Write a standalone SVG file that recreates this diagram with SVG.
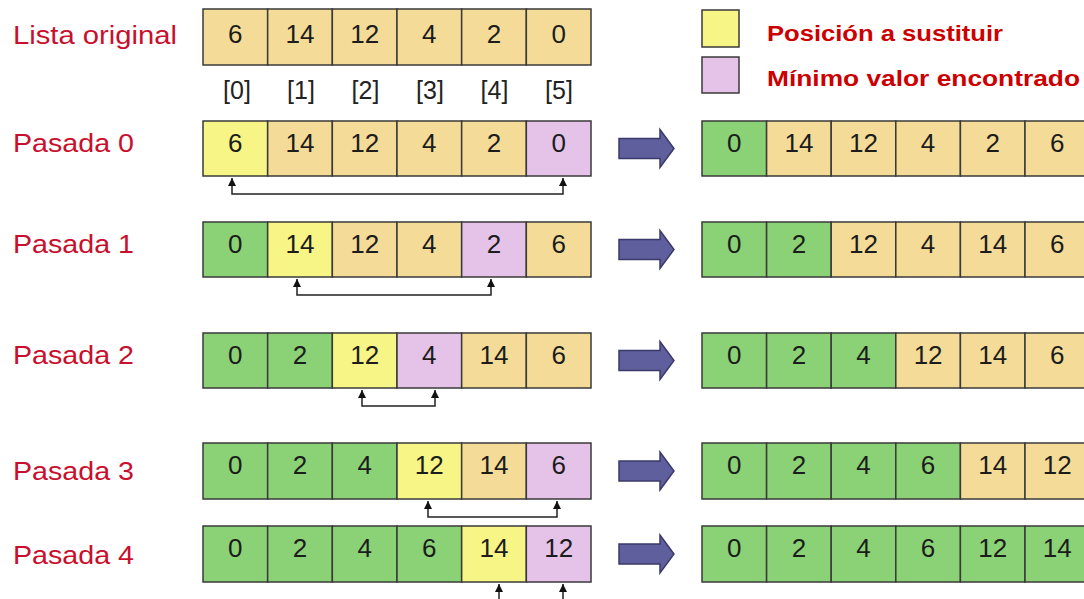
<svg xmlns="http://www.w3.org/2000/svg" width="1084" height="599" viewBox="0 0 1084 599">
  <defs>
    <style>
      .cell { stroke: #3a3a3a; stroke-width: 1.5; }
      .tan { fill: #f4dc98; }
      .yel { fill: #f6f585; }
      .pnk { fill: #e5c3e8; }
      .grn { fill: #8bd276; }
      .num { font-family: "Liberation Sans", Arial, sans-serif; font-size: 26px; fill: #1c1c1c; text-anchor: middle; }
      .idx { font-family: "Liberation Sans", Arial, sans-serif; font-size: 25px; fill: #222; text-anchor: middle; }
      .lbl { font-family: "Liberation Sans", Arial, sans-serif; font-size: 25px; fill: #c8102e; }
      .leg { font-family: "Liberation Sans", Arial, sans-serif; font-size: 22px; font-weight: bold; fill: #cc0000; }
      .bracket { fill: none; stroke: #222; stroke-width: 1.5; marker-start: url(#tip); marker-end: url(#tip); }
      .block { fill: #5f5f9d; stroke: #3a3a6a; stroke-width: 1.5; }
    </style>
    <marker id="tip" viewBox="0 0 10 10" refX="10" refY="5" markerWidth="10" markerHeight="8" markerUnits="userSpaceOnUse" orient="auto-start-reverse">
      <path d="M0,0 L10,5 L0,10 Z" fill="#111"/>
    </marker>
  </defs>
  <rect width="1084" height="599" fill="#ffffff"/>

  <!-- Row labels -->
  <g id="labels">
    <text class="lbl" x="13" y="44" textLength="164" lengthAdjust="spacingAndGlyphs">Lista original</text>
    <text class="lbl" x="13" y="152" textLength="121" lengthAdjust="spacingAndGlyphs">Pasada 0</text>
    <text class="lbl" x="13" y="253" textLength="121" lengthAdjust="spacingAndGlyphs">Pasada 1</text>
    <text class="lbl" x="13" y="364" textLength="121" lengthAdjust="spacingAndGlyphs">Pasada 2</text>
    <text class="lbl" x="13" y="480" textLength="121" lengthAdjust="spacingAndGlyphs">Pasada 3</text>
    <text class="lbl" x="13" y="564" textLength="121" lengthAdjust="spacingAndGlyphs">Pasada 4</text>
  </g>

  <!-- Legend -->
  <g id="legend-sustituir">
    <rect class="cell yel" x="702" y="10" width="37" height="37"/>
    <text class="leg" x="767" y="41" textLength="236" lengthAdjust="spacingAndGlyphs">Posición a sustituir</text>
  </g>
  <g id="legend-minimo">
    <rect class="cell pnk" x="702" y="57" width="37" height="36"/>
    <text class="leg" x="767" y="86" textLength="313" lengthAdjust="spacingAndGlyphs">Mínimo valor encontrado</text>
  </g>

  <!-- Original list -->
  <g id="row-original">
    <rect class="cell tan" x="203" y="9" width="64.67" height="56"/>
    <rect class="cell tan" x="267.67" y="9" width="64.67" height="56"/>
    <rect class="cell tan" x="332.33" y="9" width="64.67" height="56"/>
    <rect class="cell tan" x="397" y="9" width="64.67" height="56"/>
    <rect class="cell tan" x="461.67" y="9" width="64.67" height="56"/>
    <rect class="cell tan" x="526.33" y="9" width="64.67" height="56"/>
    <text class="num" x="235.3" y="43">6</text>
    <text class="num" x="300" y="43">14</text>
    <text class="num" x="364.7" y="43">12</text>
    <text class="num" x="429.3" y="43">4</text>
    <text class="num" x="494" y="43">2</text>
    <text class="num" x="558.7" y="43">0</text>
  </g>
  <g id="indices">
    <text class="idx" x="237" y="99">[0]</text>
    <text class="idx" x="301" y="99">[1]</text>
    <text class="idx" x="365.5" y="99">[2]</text>
    <text class="idx" x="430" y="99">[3]</text>
    <text class="idx" x="494.5" y="99">[4]</text>
    <text class="idx" x="559" y="99">[5]</text>
  </g>

  <!-- Pasada 0 -->
  <g id="row-p0">
    <rect class="cell yel" x="203" y="121" width="64.67" height="55"/>
    <rect class="cell tan" x="267.67" y="121" width="64.67" height="55"/>
    <rect class="cell tan" x="332.33" y="121" width="64.67" height="55"/>
    <rect class="cell tan" x="397" y="121" width="64.67" height="55"/>
    <rect class="cell tan" x="461.67" y="121" width="64.67" height="55"/>
    <rect class="cell pnk" x="526.33" y="121" width="64.67" height="55"/>
    <text class="num" x="235.3" y="152">6</text>
    <text class="num" x="300" y="152">14</text>
    <text class="num" x="364.7" y="152">12</text>
    <text class="num" x="429.3" y="152">4</text>
    <text class="num" x="494" y="152">2</text>
    <text class="num" x="558.7" y="152">0</text>
  </g>
  <g id="result-p0">
    <rect class="cell grn" x="702" y="121" width="64.6" height="55"/>
    <rect class="cell tan" x="766.6" y="121" width="64.6" height="55"/>
    <rect class="cell tan" x="831.2" y="121" width="64.6" height="55"/>
    <rect class="cell tan" x="895.8" y="121" width="64.6" height="55"/>
    <rect class="cell tan" x="960.4" y="121" width="64.6" height="55"/>
    <rect class="cell tan" x="1025" y="121" width="64.6" height="55"/>
    <text class="num" x="734.3" y="152">0</text>
    <text class="num" x="798.9" y="152">14</text>
    <text class="num" x="863.5" y="152">12</text>
    <text class="num" x="928.1" y="152">4</text>
    <text class="num" x="992.7" y="152">2</text>
    <text class="num" x="1057.3" y="152">6</text>
  </g>

  <!-- Pasada 1 -->
  <g id="row-p1">
    <rect class="cell grn" x="203" y="222" width="64.67" height="55"/>
    <rect class="cell yel" x="267.67" y="222" width="64.67" height="55"/>
    <rect class="cell tan" x="332.33" y="222" width="64.67" height="55"/>
    <rect class="cell tan" x="397" y="222" width="64.67" height="55"/>
    <rect class="cell pnk" x="461.67" y="222" width="64.67" height="55"/>
    <rect class="cell tan" x="526.33" y="222" width="64.67" height="55"/>
    <text class="num" x="235.3" y="253">0</text>
    <text class="num" x="300" y="253">14</text>
    <text class="num" x="364.7" y="253">12</text>
    <text class="num" x="429.3" y="253">4</text>
    <text class="num" x="494" y="253">2</text>
    <text class="num" x="558.7" y="253">6</text>
  </g>
  <g id="result-p1">
    <rect class="cell grn" x="702" y="222" width="64.6" height="55"/>
    <rect class="cell grn" x="766.6" y="222" width="64.6" height="55"/>
    <rect class="cell tan" x="831.2" y="222" width="64.6" height="55"/>
    <rect class="cell tan" x="895.8" y="222" width="64.6" height="55"/>
    <rect class="cell tan" x="960.4" y="222" width="64.6" height="55"/>
    <rect class="cell tan" x="1025" y="222" width="64.6" height="55"/>
    <text class="num" x="734.3" y="253">0</text>
    <text class="num" x="798.9" y="253">2</text>
    <text class="num" x="863.5" y="253">12</text>
    <text class="num" x="928.1" y="253">4</text>
    <text class="num" x="992.7" y="253">14</text>
    <text class="num" x="1057.3" y="253">6</text>
  </g>

  <!-- Pasada 2 -->
  <g id="row-p2">
    <rect class="cell grn" x="203" y="333" width="64.67" height="55"/>
    <rect class="cell grn" x="267.67" y="333" width="64.67" height="55"/>
    <rect class="cell yel" x="332.33" y="333" width="64.67" height="55"/>
    <rect class="cell pnk" x="397" y="333" width="64.67" height="55"/>
    <rect class="cell tan" x="461.67" y="333" width="64.67" height="55"/>
    <rect class="cell tan" x="526.33" y="333" width="64.67" height="55"/>
    <text class="num" x="235.3" y="364">0</text>
    <text class="num" x="300" y="364">2</text>
    <text class="num" x="364.7" y="364">12</text>
    <text class="num" x="429.3" y="364">4</text>
    <text class="num" x="494" y="364">14</text>
    <text class="num" x="558.7" y="364">6</text>
  </g>
  <g id="result-p2">
    <rect class="cell grn" x="702" y="333" width="64.6" height="55"/>
    <rect class="cell grn" x="766.6" y="333" width="64.6" height="55"/>
    <rect class="cell grn" x="831.2" y="333" width="64.6" height="55"/>
    <rect class="cell tan" x="895.8" y="333" width="64.6" height="55"/>
    <rect class="cell tan" x="960.4" y="333" width="64.6" height="55"/>
    <rect class="cell tan" x="1025" y="333" width="64.6" height="55"/>
    <text class="num" x="734.3" y="364">0</text>
    <text class="num" x="798.9" y="364">2</text>
    <text class="num" x="863.5" y="364">4</text>
    <text class="num" x="928.1" y="364">12</text>
    <text class="num" x="992.7" y="364">14</text>
    <text class="num" x="1057.3" y="364">6</text>
  </g>

  <!-- Pasada 3 -->
  <g id="row-p3">
    <rect class="cell grn" x="203" y="443" width="64.67" height="56"/>
    <rect class="cell grn" x="267.67" y="443" width="64.67" height="56"/>
    <rect class="cell grn" x="332.33" y="443" width="64.67" height="56"/>
    <rect class="cell yel" x="397" y="443" width="64.67" height="56"/>
    <rect class="cell tan" x="461.67" y="443" width="64.67" height="56"/>
    <rect class="cell pnk" x="526.33" y="443" width="64.67" height="56"/>
    <text class="num" x="235.3" y="474">0</text>
    <text class="num" x="300" y="474">2</text>
    <text class="num" x="364.7" y="474">4</text>
    <text class="num" x="429.3" y="474">12</text>
    <text class="num" x="494" y="474">14</text>
    <text class="num" x="558.7" y="474">6</text>
  </g>
  <g id="result-p3">
    <rect class="cell grn" x="702" y="443" width="64.6" height="56"/>
    <rect class="cell grn" x="766.6" y="443" width="64.6" height="56"/>
    <rect class="cell grn" x="831.2" y="443" width="64.6" height="56"/>
    <rect class="cell grn" x="895.8" y="443" width="64.6" height="56"/>
    <rect class="cell tan" x="960.4" y="443" width="64.6" height="56"/>
    <rect class="cell tan" x="1025" y="443" width="64.6" height="56"/>
    <text class="num" x="734.3" y="474">0</text>
    <text class="num" x="798.9" y="474">2</text>
    <text class="num" x="863.5" y="474">4</text>
    <text class="num" x="928.1" y="474">6</text>
    <text class="num" x="992.7" y="474">14</text>
    <text class="num" x="1057.3" y="474">12</text>
  </g>

  <!-- Pasada 4 -->
  <g id="row-p4">
    <rect class="cell grn" x="203" y="526" width="64.67" height="56"/>
    <rect class="cell grn" x="267.67" y="526" width="64.67" height="56"/>
    <rect class="cell grn" x="332.33" y="526" width="64.67" height="56"/>
    <rect class="cell grn" x="397" y="526" width="64.67" height="56"/>
    <rect class="cell yel" x="461.67" y="526" width="64.67" height="56"/>
    <rect class="cell pnk" x="526.33" y="526" width="64.67" height="56"/>
    <text class="num" x="235.3" y="557">0</text>
    <text class="num" x="300" y="557">2</text>
    <text class="num" x="364.7" y="557">4</text>
    <text class="num" x="429.3" y="557">6</text>
    <text class="num" x="494" y="557">14</text>
    <text class="num" x="558.7" y="557">12</text>
  </g>
  <g id="result-p4">
    <rect class="cell grn" x="702" y="526" width="64.6" height="56"/>
    <rect class="cell grn" x="766.6" y="526" width="64.6" height="56"/>
    <rect class="cell grn" x="831.2" y="526" width="64.6" height="56"/>
    <rect class="cell grn" x="895.8" y="526" width="64.6" height="56"/>
    <rect class="cell grn" x="960.4" y="526" width="64.6" height="56"/>
    <rect class="cell grn" x="1025" y="526" width="64.6" height="56"/>
    <text class="num" x="734.3" y="557">0</text>
    <text class="num" x="798.9" y="557">2</text>
    <text class="num" x="863.5" y="557">4</text>
    <text class="num" x="928.1" y="557">6</text>
    <text class="num" x="992.7" y="557">12</text>
    <text class="num" x="1057.3" y="557">14</text>
  </g>

  <!-- Connectors -->
  <g id="connectors">
    <path class="bracket" d="M232,178 V194 H563 V178"/>
    <path class="bracket" d="M297,279 V295 H491 V279"/>
    <path class="bracket" d="M362,390 V406 H435 V390"/>
    <path class="bracket" d="M428,501 V517 H557 V501"/>
    <path class="bracket" d="M499,584 V606 H563 V584"/>
    <path class="block" d="M619,138.5 H660 V129.5 L674,148.5 L660,167.5 V158.5 H619 Z"/>
    <path class="block" d="M619,239.5 H660 V230.5 L674,249.5 L660,268.5 V259.5 H619 Z"/>
    <path class="block" d="M619,350.5 H660 V341.5 L674,360.5 L660,379.5 V370.5 H619 Z"/>
    <path class="block" d="M619,461 H660 V452 L674,471 L660,490 V481 H619 Z"/>
    <path class="block" d="M619,544 H660 V535 L674,554 L660,573 V564 H619 Z"/>
  </g>
</svg>
